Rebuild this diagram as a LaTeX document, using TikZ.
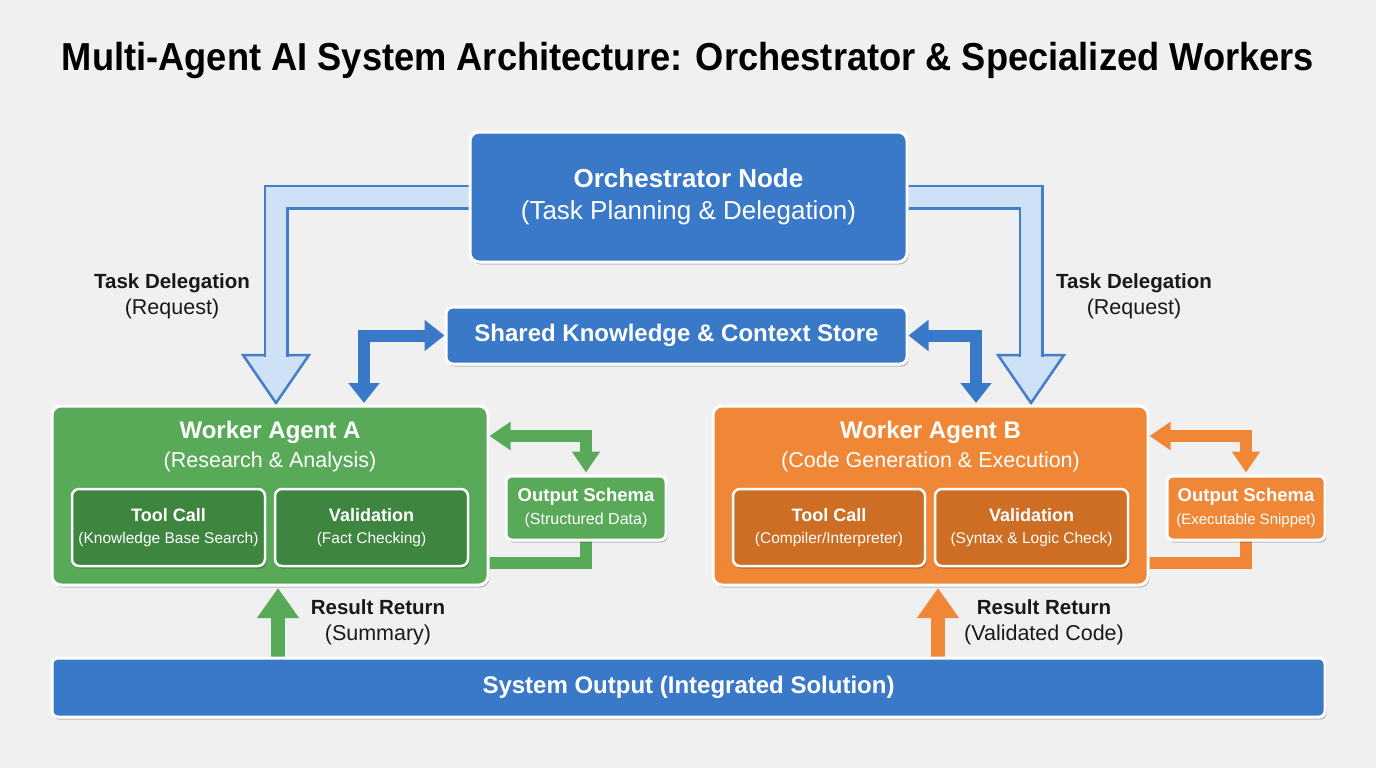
\documentclass[tikz,border=0pt]{standalone}
\usepackage{fontspec}
\setmainfont{Liberation Sans}
\newfontfamily\titlefont[FakeStretch=0.93]{Liberation Sans}
\usetikzlibrary{arrows.meta, shadows, calc}
\definecolor{pagebg}{RGB}{240,240,240}
\definecolor{orchblue}{RGB}{58,121,200}
\definecolor{delegfill}{RGB}{206,225,247}
\definecolor{delegline}{RGB}{66,126,201}
\definecolor{agentA}{RGB}{88,170,89}
\definecolor{agentAdark}{RGB}{62,134,64}
\definecolor{agentB}{RGB}{240,135,54}
\definecolor{agentBdark}{RGB}{205,110,36}
\pgfdeclarelayer{back}
\pgfsetlayers{back,main}
\tikzset{
    soft shadow/.style={drop shadow={shadow xshift=1.5pt, shadow yshift=-2.5pt, opacity=0.22, fill=black}},
    blue box/.style={draw=white, line width=3pt, fill=orchblue, rounded corners=9pt, text=white, align=center, soft shadow},
    agent box/.style={draw=white, line width=3pt, rounded corners=9pt, minimum width=436pt, minimum height=179pt, soft shadow},
    inner box/.style={draw=white, line width=2.5pt, rounded corners=7pt, minimum width=193pt, minimum height=77pt, text=white, align=center, font=\fontsize{15.5}{22}\selectfont, soft shadow},
    schema box/.style={draw=white, line width=3pt, rounded corners=6pt, minimum width=160pt, minimum height=64pt, text=white, align=center, font=\fontsize{16}{23}\selectfont, soft shadow},
    agent title/.style={text=white, align=center, font=\fontsize{21.5}{29}\selectfont},
    flow label/.style={text=black!90, align=center, font=\fontsize{21.5}{26}\selectfont},
    deleg shaft/.style={draw=delegline, line width=2.5pt, double=delegfill, double distance=20pt},
    deleg head/.style={draw=delegline, fill=delegfill, line width=2.5pt},
    kb link/.style={orchblue, line width=12pt, {Triangle[width=30pt,length=20pt]}-{Triangle[width=30pt,length=20pt]}},
    schema link/.style={line width=12pt, {Triangle[width=27pt,length=21pt]}-{Triangle[width=27pt,length=21pt]}},
    schema back/.style={line width=12pt},
    result arrow/.style={line width=14pt, -{Triangle[width=40pt,length=30pt]}},
}
\newcommand{\headline}[2]{{\fontsize{#1}{#1}\selectfont\bfseries #2}}

\begin{document}
\begin{tikzpicture}[x=1pt, y=-1pt]
    \useasboundingbox (0,0) rectangle (1376,768);
    \node[font=\titlefont\fontsize{39}{39}\selectfont\bfseries] (title) at (688,61) {Multi-Agent AI System Architecture: Orchestrator \& Specialized Workers};

    % orchestrator and shared store
    \node[blue box, minimum width=437pt, minimum height=130pt, font=\fontsize{26}{32}\selectfont] (orch) at (688.5,197) {\textbf{Orchestrator Node}\\(Task Planning \& Delegation)};
    \node[blue box, minimum width=461pt, minimum height=57pt, rounded corners=7pt] (store) at (676.5,335.5) {\headline{24}{Shared Knowledge \& Context Store}};

    % worker A
    \node[agent box, fill=agentA] (workerA) at (270,495.5) {};
    \node[agent title] (titleA) at (270,447) {\headline{24}{Worker Agent A}\\(Research \& Analysis)};
    \node[inner box, fill=agentAdark] (toolA) at (168.5,527.5) {\headline{18}{Tool Call}\\(Knowledge Base Search)};
    \node[inner box, fill=agentAdark] (checkA) at (371.5,527.5) {\headline{18}{Validation}\\(Fact Checking)};
    \node[schema box, fill=agentA] (schemaA) at (586,508) {\headline{18.5}{Output Schema}\\(Structured Data)};

    % worker B
    \node[agent box, minimum width=435pt, fill=agentB] (workerB) at (930.5,495.5) {};
    \node[agent title] (titleB) at (930.5,447) {\headline{24}{Worker Agent B}\\(Code Generation \& Execution)};
    \node[inner box, minimum width=192pt, fill=agentBdark] (toolB) at (829,527.5) {\headline{18}{Tool Call}\\(Compiler/Interpreter)};
    \node[inner box, fill=agentBdark] (checkB) at (1031.5,527.5) {\headline{18}{Validation}\\(Syntax \& Logic Check)};
    \node[schema box, minimum width=158pt, fill=agentB, font=\fontsize{15}{23}\selectfont] (schemaB) at (1246,508) {\headline{18.5}{Output Schema}\\(Executable Snippet)};

    \node[blue box, minimum width=1273pt, minimum height=59pt, rounded corners=6pt] (sysout) at (688.5,687.5) {\headline{24}{System Output (Integrated Solution)}};

    % labels
    \node[flow label] (delegAtxt) at (172,296) {\headline{20.5}{Task Delegation}\\(Request)};
    \node[flow label] (delegBtxt) at (1134,296) {\headline{20.5}{Task Delegation}\\(Request)};
    \node[flow label] (retAtxt) at (378,622) {\headline{20.5}{Result Return}\\(Summary)};
    \node[flow label] (retBtxt) at (1044,622) {\headline{20.5}{Result Return}\\(Validated Code)};

    \coordinate (tipA) at (276,403);
    \coordinate (tipB) at (1031,403);
    \coordinate (kbA) at (364,403);
    \coordinate (kbB) at (976,403);

    \begin{pgfonlayer}{back}
        \fill[pagebg] (0,0) rectangle (1376,768);
        % task delegation
        \filldraw[deleg head] (tipA) -- ++(-33,-48) -- ++(66,0) -- cycle;
        \draw[deleg shaft] ([xshift=6pt]orch.west) -| ([yshift=46pt]tipA);
        \filldraw[deleg head] (tipB) -- ++(-33,-48) -- ++(66,0) -- cycle;
        \draw[deleg shaft] ([xshift=-6pt]orch.east) -| ([yshift=46pt]tipB);
        % shared store
        \draw[kb link] (store.west) -| (kbA);
        \draw[kb link] (store.east) -| (kbB);
        % output schema loops
        \draw[schema link, agentA] ([yshift=59.5pt]workerA.east) -| ([yshift=2pt]schemaA.north);
        \draw[schema back, agentA] ([yshift=2pt]schemaA.south) |- ([xshift=-4pt,yshift=-67.5pt]workerA.east);
        \draw[schema link, agentB] ([yshift=59.5pt]workerB.east) -| ([yshift=2pt]schemaB.north);
        \draw[schema back, agentB] ([yshift=2pt]schemaB.south) |- ([xshift=-4pt,yshift=-67.5pt]workerB.east);
        % results
        \draw[result arrow, agentA] ([xshift=-410.5pt,yshift=-4pt]sysout.north) -- ([xshift=8pt,yshift=-1.5pt]workerA.south);
        \draw[result arrow, agentB] ([xshift=249.5pt,yshift=-4pt]sysout.north) -- ([xshift=7.5pt,yshift=-1.5pt]workerB.south);
    \end{pgfonlayer}
\end{tikzpicture}
\end{document}
